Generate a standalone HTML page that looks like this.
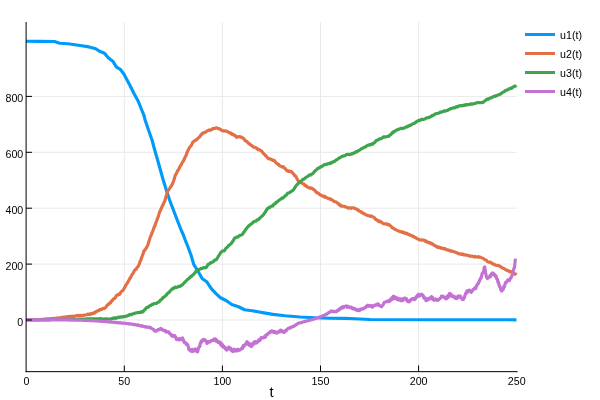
<!DOCTYPE html><html><head><meta charset="utf-8"><title>plot</title>
<style>html,body{margin:0;padding:0;background:#fff}body{width:600px;height:400px;overflow:hidden}svg{display:block;will-change:transform}text{font-family:"Liberation Sans",sans-serif;fill:#000}</style></head><body>
<svg width="600" height="400" viewBox="0 0 600 400">
<rect width="600" height="400" fill="#fff"/>
<g stroke="#e9e9e9" stroke-width="1" fill="none">
<line x1="124.30" y1="22" x2="124.30" y2="371.5"/>
<line x1="222.40" y1="22" x2="222.40" y2="371.5"/>
<line x1="320.50" y1="22" x2="320.50" y2="371.5"/>
<line x1="418.60" y1="22" x2="418.60" y2="371.5"/>
<line x1="26.2" y1="320.00" x2="516.8" y2="320.00"/>
<line x1="26.2" y1="264.10" x2="516.8" y2="264.10"/>
<line x1="26.2" y1="208.20" x2="516.8" y2="208.20"/>
<line x1="26.2" y1="152.30" x2="516.8" y2="152.30"/>
<line x1="26.2" y1="96.40" x2="516.8" y2="96.40"/>
</g>
<g fill="none" stroke-width="3.15" stroke-linejoin="round" stroke-linecap="butt">
<path stroke="#009AFA" d="M26.00,41.20 L39.50,41.35 L54.50,41.50 L59.75,43.30 L68.00,43.75 L80.00,45.55 L89.00,46.90 L95.75,48.70 L99.50,51.25 L104.50,53.25 L108.25,57.75 L112.75,61.20 L116.50,67.20 L120.25,69.30 L124.00,74.25 L130.00,85.50 L134.50,94.50 L138.25,101.25 L140.80,107.75 L143.85,115.00 L145.10,120.00 L148.50,130.00 L152.00,140.00 L154.70,150.00 L157.60,160.00 L160.40,170.00 L163.20,180.00 L166.30,190.00 L169.60,200.00 L173.40,210.00 L177.20,220.00 L181.10,230.00 L183.40,235.00 L185.00,239.50 L188.00,247.00 L191.00,255.00 L193.70,264.30 L196.00,268.00 L198.00,271.20 L202.30,278.80 L206.80,281.80 L211.50,288.90 L216.00,293.60 L220.50,297.75 L226.50,300.75 L231.75,304.50 L238.50,306.75 L244.50,309.75 L252.00,310.80 L258.00,311.80 L264.00,312.90 L273.00,314.40 L285.00,315.80 L300.00,317.00 L315.00,317.75 L330.00,318.20 L345.00,318.40 L355.00,318.80 L370.00,319.45 L430.00,319.70 L516.40,319.80"/>
<path stroke="#E36F47" d="M26.00,319.80 L26.78,319.79 L27.56,319.78 L28.33,319.77 L29.11,319.76 L29.89,319.74 L30.67,319.73 L31.44,319.72 L32.22,319.71 L33.00,319.70 L33.78,319.69 L34.56,319.68 L35.33,319.67 L36.11,319.66 L36.89,319.64 L37.67,319.63 L38.44,319.62 L39.22,319.61 L40.00,319.60 L40.78,319.52 L41.56,319.44 L42.33,319.37 L43.11,319.29 L43.89,319.21 L44.67,319.13 L45.44,319.06 L46.22,318.98 L47.00,318.90 L47.81,318.84 L48.62,318.78 L49.42,318.72 L50.23,318.65 L51.04,318.59 L51.85,318.53 L52.65,318.47 L53.46,318.41 L54.27,318.35 L55.08,318.28 L55.88,318.22 L56.69,318.16 L57.50,318.10 L58.31,317.98 L59.12,317.85 L59.92,317.73 L60.73,318.09 L61.54,317.95 L62.35,317.02 L63.15,317.49 L63.96,317.33 L64.77,316.95 L65.58,316.90 L66.38,316.74 L67.19,317.05 L68.00,316.50 L68.80,316.78 L69.60,316.25 L70.40,316.72 L71.20,316.69 L72.00,316.19 L72.80,316.25 L73.60,316.55 L74.40,316.30 L75.20,316.01 L76.00,315.69 L76.80,315.74 L77.60,316.06 L78.40,315.47 L79.20,316.16 L80.00,315.47 L80.82,315.98 L81.64,315.26 L82.45,315.78 L83.27,315.40 L84.09,315.07 L84.91,314.95 L85.73,314.96 L86.55,314.77 L87.36,314.37 L88.18,314.14 L89.00,314.31 L89.75,314.56 L90.50,314.07 L91.25,313.35 L92.00,313.92 L92.75,313.55 L93.50,313.46 L94.25,312.47 L95.00,312.74 L95.83,311.61 L96.67,311.75 L97.50,310.92 L98.33,310.43 L99.17,310.63 L100.00,309.41 L100.83,309.52 L101.67,309.55 L102.50,308.64 L103.33,308.31 L104.17,308.68 L105.00,307.92 L105.92,307.22 L106.83,305.53 L107.75,304.86 L108.50,304.01 L109.25,303.84 L110.00,302.58 L110.83,302.55 L111.67,300.73 L112.50,300.53 L113.33,299.05 L114.17,298.52 L115.00,298.31 L115.90,296.36 L116.80,295.08 L117.54,295.22 L118.28,294.54 L119.01,293.82 L119.75,294.39 L120.50,292.65 L121.25,291.64 L122.00,291.04 L122.75,290.42 L123.50,289.64 L124.25,288.11 L125.00,286.94 L125.75,285.25 L126.50,284.27 L127.25,283.19 L128.00,281.78 L128.75,280.54 L129.50,279.01 L130.25,277.93 L131.00,276.60 L131.75,275.19 L132.50,273.76 L133.25,273.02 L134.00,271.49 L134.75,270.10 L135.50,269.55 L136.25,269.07 L137.00,267.43 L137.75,266.98 L138.50,265.89 L139.25,264.01 L140.00,261.64 L140.75,260.46 L141.50,257.76 L142.25,256.11 L143.00,253.92 L144.00,250.72 L144.77,250.36 L145.53,249.04 L146.30,248.06 L147.15,246.28 L148.00,244.66 L148.65,242.10 L149.30,240.14 L150.15,237.51 L151.00,235.48 L152.00,232.93 L153.00,230.49 L154.00,227.48 L155.00,225.44 L155.75,223.08 L156.50,221.26 L157.25,219.12 L158.00,217.13 L158.75,214.88 L159.50,212.26 L160.25,210.82 L161.00,209.33 L161.75,207.20 L162.50,205.64 L163.25,204.41 L164.00,202.36 L164.75,201.22 L165.50,198.30 L166.25,195.72 L167.00,193.37 L167.75,190.98 L168.50,189.84 L169.25,189.02 L170.00,187.84 L170.75,186.56 L171.50,185.77 L172.25,184.21 L173.00,182.66 L173.75,180.46 L174.50,177.98 L175.25,175.43 L176.00,174.15 L176.75,172.87 L177.50,170.98 L178.25,169.99 L179.00,168.74 L179.75,167.04 L180.50,165.59 L181.25,164.89 L182.00,163.03 L182.75,161.77 L183.50,160.75 L184.25,159.03 L185.00,157.29 L185.88,155.98 L186.75,153.37 L187.62,151.02 L188.50,149.69 L189.33,147.78 L190.17,146.67 L191.00,145.89 L191.83,144.41 L192.67,142.43 L193.50,141.55 L194.32,140.99 L195.14,140.55 L195.96,139.75 L196.78,139.61 L197.60,138.57 L198.42,137.85 L199.23,137.01 L200.05,136.64 L200.87,134.84 L201.68,134.59 L202.50,133.09 L203.32,133.09 L204.13,132.53 L204.95,132.21 L205.77,132.12 L206.58,131.38 L207.40,130.72 L208.21,130.37 L209.02,129.98 L209.82,130.40 L210.63,129.84 L211.44,129.81 L212.25,129.19 L213.00,128.28 L213.75,128.68 L214.50,128.56 L215.25,128.26 L216.00,127.80 L216.75,127.90 L217.50,128.24 L218.25,128.82 L219.00,128.53 L219.75,129.03 L220.50,129.34 L221.25,130.17 L222.00,130.38 L222.75,130.87 L223.50,131.14 L224.25,130.75 L225.00,130.83 L225.75,131.24 L226.50,131.16 L227.25,131.48 L228.00,131.88 L228.75,132.54 L229.50,132.64 L230.25,133.29 L231.00,133.00 L231.75,133.68 L232.50,134.75 L233.25,134.41 L234.00,135.19 L234.75,135.35 L235.50,135.88 L236.25,137.20 L237.00,137.31 L237.75,136.99 L238.50,136.49 L239.25,136.68 L240.00,136.64 L240.75,137.10 L241.50,137.13 L242.25,137.56 L243.00,138.32 L243.75,138.59 L244.50,139.69 L245.25,140.77 L246.00,141.26 L246.75,141.22 L247.50,142.27 L248.25,143.09 L249.00,143.26 L249.75,144.52 L250.50,144.71 L251.25,145.42 L252.00,145.59 L252.75,146.65 L253.50,146.91 L254.25,147.17 L255.00,147.21 L255.75,147.97 L256.50,148.03 L257.33,149.01 L258.17,149.72 L259.00,149.43 L259.83,150.18 L260.67,150.57 L261.50,150.90 L262.25,152.02 L263.00,153.06 L263.75,153.64 L264.50,154.22 L265.25,155.52 L266.00,155.70 L266.75,156.93 L267.50,157.65 L268.25,158.56 L269.00,158.93 L269.75,158.58 L270.50,159.26 L271.25,159.32 L272.00,159.86 L272.75,160.45 L273.50,160.38 L274.25,160.42 L275.00,161.53 L275.75,162.43 L276.50,163.26 L277.25,163.68 L278.00,164.50 L278.75,164.36 L279.50,165.94 L280.25,166.03 L281.00,166.21 L281.75,166.81 L282.50,167.08 L283.25,166.60 L284.00,167.62 L284.75,168.43 L285.50,168.72 L286.25,170.13 L287.00,170.84 L287.75,170.62 L288.50,171.40 L289.25,170.91 L290.00,171.56 L290.75,171.56 L291.50,171.55 L292.25,172.71 L293.00,173.45 L293.75,174.02 L294.50,175.63 L295.25,175.57 L296.00,176.63 L296.75,178.24 L297.50,179.71 L298.25,180.66 L299.00,181.30 L299.75,181.59 L300.50,182.32 L301.25,182.53 L302.00,183.02 L302.75,183.80 L303.50,183.82 L304.25,184.37 L305.00,185.53 L305.75,185.45 L306.50,186.51 L307.25,187.04 L308.00,187.15 L308.75,187.67 L309.50,188.04 L310.25,188.36 L311.00,187.88 L311.75,188.16 L312.50,188.63 L313.25,189.34 L314.00,189.79 L314.75,190.14 L315.50,191.31 L316.25,192.34 L317.00,192.37 L317.75,193.04 L318.50,193.38 L319.25,193.94 L320.00,194.87 L320.75,194.81 L321.50,195.65 L322.25,195.78 L323.00,196.14 L323.75,196.81 L324.50,196.28 L325.25,197.32 L326.00,197.10 L326.75,197.76 L327.50,198.22 L328.25,198.40 L329.00,198.45 L329.75,199.21 L330.50,198.78 L331.25,199.63 L332.00,199.82 L332.75,200.39 L333.50,201.14 L334.25,201.51 L335.00,201.77 L335.75,201.88 L336.50,202.23 L337.25,203.01 L338.00,203.33 L338.75,203.93 L339.50,205.16 L340.25,204.86 L341.00,206.12 L341.75,205.89 L342.50,206.08 L343.25,206.24 L344.00,206.20 L344.75,206.79 L345.50,206.70 L346.25,207.19 L347.00,207.24 L347.82,207.95 L348.65,208.08 L349.48,207.71 L350.30,208.01 L351.12,208.40 L351.95,207.91 L352.77,207.78 L353.60,208.03 L354.43,208.08 L355.25,208.68 L356.00,208.80 L356.75,209.21 L357.50,210.08 L358.25,209.95 L359.00,210.95 L359.75,211.20 L360.50,211.40 L361.25,212.24 L362.00,212.17 L362.75,213.12 L363.50,213.58 L364.25,213.57 L365.00,214.16 L365.75,214.84 L366.50,215.04 L367.25,215.26 L368.00,215.58 L368.75,215.85 L369.50,215.88 L370.25,216.31 L371.00,215.83 L371.75,216.37 L372.50,216.62 L373.25,216.94 L374.00,217.60 L374.75,218.00 L375.50,219.41 L376.25,219.43 L377.00,220.18 L377.75,220.97 L378.50,220.64 L379.25,221.79 L380.00,221.33 L380.75,221.60 L381.50,222.30 L382.25,222.68 L383.00,223.62 L383.75,223.77 L384.50,223.84 L385.25,223.70 L386.00,223.99 L386.75,223.87 L387.50,224.66 L388.25,224.40 L389.00,224.48 L389.75,225.51 L390.50,225.70 L391.25,226.54 L392.00,227.83 L392.75,227.67 L393.50,228.39 L394.25,228.83 L395.00,229.25 L395.75,229.80 L396.50,230.00 L397.25,230.47 L398.00,230.75 L398.81,230.96 L399.61,231.56 L400.42,231.50 L401.22,231.76 L402.03,232.38 L402.83,231.90 L403.64,232.20 L404.44,233.13 L405.25,232.93 L406.09,233.62 L406.94,233.31 L407.78,234.04 L408.62,234.70 L409.47,234.53 L410.31,235.29 L411.16,235.47 L412.00,235.59 L412.75,236.61 L413.50,236.42 L414.25,236.91 L415.00,237.47 L415.75,237.58 L416.50,238.51 L417.25,238.69 L418.00,239.09 L418.75,239.23 L419.50,239.86 L420.25,240.05 L421.00,240.09 L421.75,239.89 L422.50,240.04 L423.25,240.34 L424.00,240.05 L424.84,240.45 L425.69,241.67 L426.53,241.14 L427.38,242.29 L428.22,242.37 L429.06,242.94 L429.91,242.44 L430.75,243.01 L431.50,244.00 L432.25,243.71 L433.00,244.31 L433.75,245.05 L434.50,245.37 L435.25,245.85 L436.09,246.63 L436.94,246.32 L437.78,247.46 L438.62,247.40 L439.47,247.06 L440.31,248.17 L441.16,247.78 L442.00,248.28 L442.75,248.55 L443.50,248.31 L444.25,248.86 L445.00,248.61 L445.75,248.94 L446.50,249.84 L447.25,249.93 L448.00,249.82 L448.75,250.31 L449.50,250.83 L450.25,250.41 L451.00,251.09 L451.75,251.06 L452.50,251.37 L453.33,251.57 L454.17,251.90 L455.00,251.95 L455.83,252.33 L456.67,252.71 L457.50,253.17 L458.33,253.63 L459.17,253.89 L460.00,253.92 L460.75,253.89 L461.50,254.49 L462.25,253.93 L463.00,254.06 L463.75,254.96 L464.50,254.95 L465.25,254.72 L466.00,255.08 L466.75,255.13 L467.50,255.39 L468.25,255.52 L469.00,255.62 L469.75,256.15 L470.50,256.30 L471.25,256.18 L472.00,256.22 L472.75,256.13 L473.50,256.70 L474.25,257.02 L475.00,256.35 L475.75,256.92 L476.50,257.01 L477.25,257.06 L478.00,256.53 L478.85,257.24 L479.70,257.07 L480.55,257.24 L481.40,257.81 L482.25,258.06 L483.10,258.23 L483.89,258.97 L484.68,259.55 L485.46,259.95 L486.25,260.15 L487.03,261.27 L487.81,261.71 L488.59,262.12 L489.38,262.27 L490.16,262.11 L490.94,262.66 L491.72,262.96 L492.50,263.89 L493.33,264.07 L494.17,263.99 L495.00,265.04 L495.83,265.34 L496.67,265.54 L497.50,265.38 L498.33,265.49 L499.17,265.68 L500.00,266.57 L500.78,266.92 L501.56,266.96 L502.34,268.06 L503.12,268.19 L503.91,268.51 L504.69,268.98 L505.47,269.75 L506.25,269.96 L507.03,270.47 L507.81,270.25 L508.59,271.14 L509.38,271.02 L510.16,271.97 L510.94,271.59 L511.72,272.02 L512.50,272.54 L513.30,272.84 L514.10,273.43 L514.90,274.27 L515.70,274.00 L516.50,274.75"/>
<path stroke="#3EA44E" d="M26.00,320.00 L26.80,319.99 L27.59,319.99 L28.39,319.98 L29.19,319.98 L29.98,319.97 L30.78,319.96 L31.58,319.96 L32.38,319.95 L33.17,319.94 L33.97,319.94 L34.77,319.93 L35.56,319.93 L36.36,319.92 L37.16,319.91 L37.95,319.91 L38.75,319.90 L39.55,319.89 L40.34,319.89 L41.14,319.88 L41.94,319.88 L42.73,319.87 L43.53,319.86 L44.33,319.86 L45.12,319.85 L45.92,319.84 L46.72,319.84 L47.52,319.83 L48.31,319.82 L49.11,319.82 L49.91,319.81 L50.70,319.81 L51.50,319.80 L52.30,319.79 L53.09,319.79 L53.89,319.78 L54.69,319.78 L55.48,319.77 L56.28,319.76 L57.08,319.76 L57.88,319.75 L58.67,319.74 L59.47,319.74 L60.27,319.73 L61.06,319.73 L61.86,319.72 L62.66,319.71 L63.45,319.71 L64.25,319.70 L65.05,319.69 L65.84,319.69 L66.64,319.68 L67.44,319.68 L68.23,319.67 L69.03,319.66 L69.83,319.66 L70.62,319.65 L71.42,319.64 L72.22,319.64 L73.02,319.63 L73.81,319.62 L74.61,319.62 L75.41,319.61 L76.20,319.61 L77.00,319.60 L77.81,319.54 L78.62,319.49 L79.44,319.43 L80.25,319.38 L81.06,319.32 L81.88,319.26 L82.69,319.21 L83.50,319.15 L84.31,319.09 L85.12,319.04 L85.94,318.98 L86.75,318.93 L87.56,318.87 L88.38,318.81 L89.19,318.76 L90.00,318.70 L90.83,318.72 L91.67,318.73 L92.50,318.75 L93.33,318.77 L94.17,318.78 L95.00,318.80 L95.83,318.82 L96.67,318.83 L97.50,318.85 L98.33,318.87 L99.17,318.88 L100.00,318.59 L100.83,318.49 L101.67,319.23 L102.50,318.73 L103.33,319.31 L104.17,319.26 L105.00,318.79 L105.83,318.86 L106.67,318.92 L107.50,319.03 L108.33,318.99 L109.17,318.95 L110.00,319.01 L110.83,319.15 L111.67,318.61 L112.50,318.39 L113.33,318.50 L114.17,317.91 L115.00,317.82 L115.83,318.31 L116.67,317.79 L117.50,317.69 L118.33,317.09 L119.17,317.34 L120.00,317.37 L120.83,316.73 L121.67,317.14 L122.50,317.02 L123.33,316.37 L124.17,316.75 L125.00,316.47 L125.83,316.38 L126.67,315.80 L127.50,315.84 L128.33,315.58 L129.17,314.65 L130.00,314.40 L130.83,314.71 L131.67,314.72 L132.50,313.83 L133.33,313.76 L134.17,313.63 L135.00,313.14 L135.83,313.01 L136.67,312.80 L137.50,312.68 L138.33,312.72 L139.17,312.29 L140.00,312.19 L140.75,312.40 L141.50,311.57 L142.25,311.91 L143.00,311.91 L143.75,310.68 L144.50,309.75 L145.25,309.42 L146.00,308.06 L146.75,307.59 L147.50,307.39 L148.25,307.20 L149.00,306.24 L149.75,305.91 L150.50,305.40 L151.25,305.33 L152.00,304.44 L152.88,304.54 L153.75,303.65 L154.62,303.53 L155.50,303.54 L156.31,303.50 L157.12,302.86 L157.94,302.40 L158.75,302.06 L159.68,301.23 L160.60,299.72 L161.32,299.63 L162.05,299.00 L162.78,297.77 L163.50,297.20 L164.35,296.93 L165.20,296.03 L166.05,295.43 L166.90,294.26 L167.66,293.30 L168.43,292.69 L169.19,292.38 L169.95,291.14 L170.71,290.45 L171.47,289.75 L172.24,288.99 L173.00,288.22 L173.80,288.40 L174.60,287.43 L175.40,287.01 L176.20,287.58 L177.00,287.24 L177.85,287.06 L178.70,286.28 L179.55,286.47 L180.40,286.16 L181.25,285.25 L182.10,284.94 L182.95,284.24 L183.80,283.31 L184.65,282.40 L185.50,281.41 L186.25,280.77 L187.00,279.99 L187.75,279.16 L188.50,278.95 L189.25,277.99 L190.00,277.78 L190.80,276.28 L191.60,276.24 L192.40,275.24 L193.20,274.63 L194.00,273.79 L194.80,272.98 L195.60,271.88 L196.40,270.56 L197.17,270.80 L197.93,269.87 L198.70,269.57 L199.47,269.48 L200.23,268.94 L201.00,268.42 L201.75,268.72 L202.50,268.26 L203.25,267.84 L204.00,267.59 L204.75,267.97 L205.50,267.45 L206.25,267.55 L207.25,265.77 L208.25,264.23 L209.00,264.03 L209.75,263.79 L210.50,262.70 L211.25,262.76 L212.00,262.38 L212.83,261.78 L213.67,261.29 L214.50,260.06 L215.33,260.12 L216.17,259.83 L217.00,258.59 L217.82,257.34 L218.65,255.89 L219.48,254.67 L220.30,253.13 L221.05,252.28 L221.80,251.65 L222.63,250.92 L223.47,250.93 L224.30,250.96 L225.20,249.53 L226.10,248.04 L227.00,247.43 L227.80,246.72 L228.60,245.43 L229.40,245.20 L230.20,244.43 L231.00,243.83 L231.74,242.73 L232.48,241.85 L233.22,240.66 L233.96,239.31 L234.70,238.02 L235.51,237.75 L236.32,237.16 L237.13,237.15 L237.94,236.89 L238.76,236.19 L239.57,235.52 L240.38,235.21 L241.19,234.99 L242.00,234.79 L242.75,233.92 L243.50,232.53 L244.25,231.88 L245.00,230.69 L245.75,229.48 L246.50,228.40 L247.25,227.48 L248.00,226.63 L248.75,225.80 L249.50,225.46 L250.25,224.67 L251.00,223.90 L251.75,223.58 L252.50,223.14 L253.25,222.00 L254.00,221.73 L254.75,221.28 L255.50,221.24 L256.25,220.84 L257.00,219.89 L257.75,219.91 L258.50,219.36 L259.25,218.44 L260.00,218.17 L260.75,217.02 L261.50,216.80 L262.25,215.83 L263.00,215.19 L263.75,214.26 L264.50,213.10 L265.25,212.11 L266.00,210.91 L266.75,209.44 L267.50,208.83 L268.25,207.88 L269.00,207.57 L269.75,207.71 L270.50,206.63 L271.25,206.24 L272.00,205.82 L272.75,206.09 L273.59,204.68 L274.44,203.76 L275.28,203.71 L276.12,202.28 L276.97,202.15 L277.81,201.22 L278.66,200.58 L279.50,199.91 L280.30,199.19 L281.10,199.01 L281.90,197.94 L282.70,198.22 L283.50,197.61 L284.30,196.99 L285.10,195.65 L285.90,195.42 L286.70,194.79 L287.50,193.21 L288.33,192.99 L289.17,192.76 L290.00,192.55 L290.83,191.57 L291.67,191.06 L292.50,190.67 L293.35,189.82 L294.20,188.77 L295.05,187.26 L295.90,186.06 L296.75,184.91 L297.50,184.18 L298.25,183.55 L299.00,182.57 L299.75,182.26 L300.50,182.00 L301.25,180.81 L302.00,180.42 L302.75,179.37 L303.50,179.32 L304.25,178.86 L305.00,178.26 L305.75,177.59 L306.50,177.04 L307.25,176.65 L308.00,176.36 L308.75,175.31 L309.50,174.89 L310.25,175.10 L311.00,174.87 L311.75,174.14 L312.50,173.70 L313.25,173.20 L314.00,171.97 L314.75,171.29 L315.50,170.48 L316.25,170.08 L317.00,169.08 L317.75,168.26 L318.50,168.24 L319.25,168.05 L320.00,167.03 L320.75,166.97 L321.50,166.28 L322.25,166.25 L323.00,165.58 L323.75,165.07 L324.50,164.80 L325.25,164.40 L326.00,164.58 L326.75,164.27 L327.50,163.86 L328.25,163.80 L329.00,163.54 L329.75,163.60 L330.50,162.69 L331.25,163.11 L332.00,162.31 L332.75,162.07 L333.50,161.61 L334.25,161.60 L335.00,161.08 L335.75,160.32 L336.50,159.74 L337.25,159.44 L338.00,159.05 L338.75,158.12 L339.50,157.91 L340.25,157.78 L341.00,157.00 L341.75,156.44 L342.50,156.11 L343.25,156.21 L344.00,155.83 L344.75,155.75 L345.50,155.32 L346.25,154.64 L347.00,154.47 L347.75,154.41 L348.50,154.22 L349.25,154.56 L350.00,154.57 L350.83,154.35 L351.67,153.51 L352.50,153.80 L353.33,153.05 L354.17,152.89 L355.00,152.91 L355.75,151.90 L356.50,151.47 L357.25,151.71 L358.00,150.79 L358.75,150.41 L359.50,150.18 L360.25,149.84 L361.00,148.81 L361.75,148.67 L362.50,148.33 L363.25,147.94 L364.00,147.26 L364.75,147.17 L365.50,147.07 L366.25,146.13 L367.00,145.84 L367.75,145.19 L368.50,145.07 L369.25,145.16 L370.00,144.40 L370.75,144.84 L371.50,144.59 L372.25,143.60 L373.00,144.10 L373.75,142.90 L374.50,142.57 L375.25,141.86 L376.00,140.76 L376.75,140.41 L377.59,140.01 L378.44,139.78 L379.28,138.91 L380.12,138.98 L380.97,138.79 L381.81,138.16 L382.66,137.66 L383.50,136.90 L384.25,137.09 L385.00,136.82 L385.75,137.00 L386.50,136.81 L387.25,136.56 L388.00,136.06 L388.75,136.33 L389.50,135.63 L390.25,134.53 L391.00,134.48 L391.75,133.58 L392.50,132.41 L393.25,132.64 L394.00,131.43 L394.75,131.10 L395.50,130.95 L396.25,130.34 L397.00,129.80 L397.83,129.67 L398.67,129.28 L399.50,128.93 L400.33,128.59 L401.17,128.28 L402.00,128.64 L402.83,128.46 L403.67,128.06 L404.50,128.02 L405.25,127.35 L406.00,126.95 L406.75,126.74 L407.50,126.86 L408.25,125.79 L409.00,125.89 L409.75,125.34 L410.50,125.49 L411.25,124.69 L412.00,124.25 L412.75,123.89 L413.50,123.59 L414.25,123.37 L415.00,122.57 L415.75,122.61 L416.50,121.55 L417.25,121.29 L418.00,120.74 L418.75,120.35 L419.50,120.55 L420.25,120.29 L421.00,119.59 L421.75,119.38 L422.50,119.37 L423.25,119.45 L424.00,119.30 L424.75,119.02 L425.50,118.64 L426.25,118.00 L427.00,117.98 L427.75,117.55 L428.50,117.61 L429.25,117.40 L430.00,116.83 L430.75,116.40 L431.50,116.40 L432.25,115.25 L433.00,115.47 L433.75,115.08 L434.50,114.65 L435.33,113.86 L436.17,113.73 L437.00,113.47 L437.83,113.24 L438.67,113.26 L439.50,112.72 L440.33,112.09 L441.17,112.31 L442.00,111.69 L442.75,111.60 L443.50,111.53 L444.25,110.69 L445.00,111.19 L445.75,110.91 L446.50,110.57 L447.25,110.41 L448.00,110.16 L448.75,109.53 L449.50,109.45 L450.25,108.61 L451.00,108.64 L451.75,108.38 L452.57,107.97 L453.40,107.86 L454.23,107.99 L455.05,107.70 L455.88,106.80 L456.70,107.16 L457.52,106.79 L458.35,106.05 L459.18,106.10 L460.00,105.76 L460.82,105.46 L461.64,105.71 L462.45,105.90 L463.27,105.19 L464.09,105.52 L464.91,105.19 L465.73,104.53 L466.55,105.01 L467.36,104.62 L468.18,104.75 L469.00,104.39 L469.82,104.31 L470.64,103.84 L471.45,104.15 L472.27,104.15 L473.09,103.98 L473.91,103.49 L474.73,103.67 L475.55,103.31 L476.36,102.87 L477.18,102.70 L478.00,102.62 L478.75,102.62 L479.50,102.48 L480.25,102.68 L481.00,102.75 L481.75,102.50 L482.50,102.29 L483.25,102.38 L484.00,101.44 L484.75,100.94 L485.50,100.57 L486.25,99.61 L487.09,99.08 L487.94,99.38 L488.78,98.89 L489.62,98.23 L490.47,97.90 L491.31,97.70 L492.16,97.42 L493.00,96.75 L493.83,96.25 L494.67,96.14 L495.50,96.35 L496.33,95.48 L497.17,95.46 L498.00,94.93 L498.83,94.64 L499.67,94.30 L500.50,94.21 L501.25,93.50 L502.00,92.86 L502.75,92.43 L503.50,91.98 L504.25,91.76 L505.00,90.87 L505.75,90.33 L506.50,90.20 L507.25,89.85 L508.00,89.79 L508.75,88.88 L509.50,88.88 L510.25,88.55 L511.00,87.90 L511.75,88.42 L512.54,87.33 L513.33,86.80 L514.12,86.73 L514.92,86.03 L515.71,86.03 L516.50,85.50"/>
<path stroke="#C371D2" d="M26.00,319.70 L26.50,319.69 L27.00,319.69 L27.50,319.70 L28.00,319.69 L28.50,319.69 L29.00,319.70 L29.50,319.71 L30.00,319.71 L30.50,319.71 L31.00,319.69 L31.50,319.70 L32.00,319.69 L32.50,319.69 L33.00,319.69 L33.50,319.69 L34.00,319.71 L34.50,319.71 L35.00,319.71 L35.50,319.71 L36.00,319.69 L36.50,319.69 L37.00,319.70 L37.50,319.71 L38.00,319.71 L38.50,319.71 L39.00,319.69 L39.50,319.70 L40.00,319.71 L40.50,319.70 L41.00,319.69 L41.50,319.70 L42.00,319.69 L42.50,319.71 L43.00,319.71 L43.50,319.70 L44.00,319.69 L44.50,319.71 L45.00,319.70 L45.50,319.71 L46.00,319.71 L46.50,319.70 L47.00,319.70 L47.50,319.70 L48.00,319.70 L48.50,319.69 L49.00,319.69 L49.50,319.71 L50.00,319.68 L50.50,319.68 L51.00,319.70 L51.50,319.69 L52.00,319.70 L52.50,319.70 L53.00,319.69 L53.50,319.72 L54.00,319.69 L54.50,319.70 L55.00,319.69 L55.50,319.70 L56.00,319.69 L56.50,319.70 L57.00,319.71 L57.50,319.69 L58.00,319.70 L58.50,319.71 L59.00,319.69 L59.50,319.69 L60.00,319.69 L60.50,319.71 L61.00,319.70 L61.50,319.69 L62.00,319.69 L62.50,319.69 L63.00,319.70 L63.50,319.68 L64.00,319.71 L64.50,319.71 L65.00,319.72 L65.50,319.72 L66.00,319.75 L66.50,319.74 L67.00,319.76 L67.50,319.79 L68.00,319.81 L68.50,319.81 L69.00,319.84 L69.50,319.85 L70.00,319.87 L70.50,319.88 L71.00,319.90 L71.50,319.92 L72.00,319.93 L72.50,319.95 L73.00,319.97 L73.50,319.98 L74.00,320.00 L74.50,320.02 L75.00,320.03 L75.50,320.05 L76.00,320.07 L76.50,320.08 L77.00,320.10 L77.50,320.12 L78.00,320.13 L78.50,320.15 L79.00,320.16 L79.50,320.17 L80.00,320.19 L80.50,320.22 L81.00,320.22 L81.50,320.24 L82.00,320.27 L82.50,320.28 L83.00,320.32 L83.50,320.30 L84.00,320.33 L84.50,320.36 L85.00,320.36 L85.50,320.40 L86.00,320.40 L86.50,320.40 L87.00,320.43 L87.50,320.43 L88.00,320.47 L88.50,320.49 L89.00,320.56 L89.50,320.59 L90.00,320.59 L90.50,320.59 L91.00,320.63 L91.50,320.66 L92.00,320.68 L92.50,320.71 L93.00,320.80 L93.50,320.76 L94.00,320.78 L94.50,320.89 L95.00,320.88 L95.50,320.96 L96.00,320.93 L96.50,321.01 L97.00,321.01 L97.50,321.05 L98.00,321.08 L98.50,321.09 L99.00,321.07 L99.50,321.13 L100.00,321.25 L100.50,321.29 L101.00,321.34 L101.50,321.29 L102.00,321.37 L102.50,321.43 L103.00,321.45 L103.50,321.51 L104.00,321.50 L104.50,321.56 L105.00,321.61 L105.50,321.57 L106.00,321.73 L106.50,321.77 L107.00,321.64 L107.50,321.85 L108.00,321.89 L108.50,321.87 L109.00,321.78 L109.50,322.00 L110.00,321.87 L110.50,322.09 L111.00,322.06 L111.50,321.96 L112.00,322.02 L112.50,322.18 L113.00,322.21 L113.50,322.30 L114.00,322.40 L114.50,322.26 L115.00,322.25 L115.50,322.54 L116.00,322.34 L116.50,322.63 L117.00,322.46 L117.50,322.70 L118.00,322.74 L118.50,322.82 L119.00,322.77 L119.50,322.92 L120.00,322.75 L120.50,322.95 L121.00,322.88 L121.50,323.12 L122.00,323.13 L122.50,323.07 L123.00,323.14 L123.50,323.01 L124.00,323.05 L124.50,323.30 L125.00,323.31 L125.50,323.50 L126.00,323.45 L126.50,323.31 L127.00,323.45 L127.50,323.68 L128.00,323.65 L128.50,323.51 L129.00,323.93 L129.50,324.00 L130.00,323.75 L130.50,324.02 L131.00,324.02 L131.50,324.28 L132.00,324.13 L132.50,324.16 L133.00,324.35 L133.50,324.66 L134.00,324.30 L134.50,324.38 L135.00,324.71 L135.50,324.92 L136.00,324.79 L136.50,324.82 L137.00,325.12 L137.50,325.15 L138.00,324.87 L138.50,325.46 L139.00,325.18 L139.50,325.36 L140.00,325.81 L140.50,325.67 L141.00,326.03 L141.50,325.74 L142.00,326.33 L142.50,325.98 L143.00,326.07 L143.50,326.44 L144.00,326.44 L144.50,326.71 L145.00,327.11 L145.50,327.04 L146.00,326.57 L146.50,326.88 L147.00,327.14 L147.50,327.16 L148.00,327.42 L148.50,327.31 L149.00,327.05 L149.50,327.26 L150.00,327.84 L150.50,327.50 L151.00,327.93 L151.50,328.50 L152.00,328.55 L152.50,328.97 L153.00,329.28 L153.50,329.34 L154.00,330.35 L154.50,330.23 L155.00,331.12 L155.50,330.76 L156.03,331.22 L156.55,330.89 L157.07,330.45 L157.60,330.03 L158.12,329.48 L158.65,329.94 L159.18,329.28 L159.70,329.37 L160.22,328.61 L160.75,328.34 L161.22,328.64 L161.70,329.56 L162.18,329.15 L162.65,330.16 L163.12,329.83 L163.60,330.31 L164.07,330.29 L164.55,330.85 L165.03,330.46 L165.50,331.08 L166.00,331.96 L166.50,331.21 L167.00,332.04 L167.50,331.81 L168.00,331.98 L168.50,331.81 L169.00,332.00 L169.50,333.53 L170.00,333.58 L170.52,334.18 L171.04,334.83 L171.56,335.71 L172.08,334.99 L172.60,336.35 L173.14,335.92 L173.68,335.78 L174.21,336.12 L174.75,335.54 L175.30,337.32 L175.85,337.07 L176.40,339.52 L176.92,339.52 L177.43,339.62 L177.95,339.30 L178.47,339.70 L178.98,338.53 L179.50,339.80 L180.00,338.64 L180.50,338.97 L181.00,339.52 L181.50,339.05 L182.00,338.17 L182.50,337.95 L183.00,338.93 L183.50,340.38 L184.00,342.05 L184.50,342.66 L185.00,342.25 L185.56,342.78 L186.12,344.34 L186.69,343.53 L187.25,344.38 L187.80,344.98 L188.35,347.01 L188.90,349.50 L189.40,350.08 L189.90,350.09 L190.40,349.66 L190.90,351.33 L191.40,350.71 L191.90,349.74 L192.42,349.35 L192.93,351.45 L193.45,351.32 L193.97,350.98 L194.48,350.03 L195.00,349.13 L195.50,348.86 L196.00,349.55 L196.50,349.75 L197.00,351.79 L197.50,351.98 L197.97,350.67 L198.45,348.07 L198.93,347.27 L199.40,346.40 L199.86,346.49 L200.32,343.01 L200.79,343.05 L201.25,341.22 L201.75,340.77 L202.25,341.57 L202.75,339.84 L203.25,340.29 L203.75,339.34 L204.28,339.55 L204.80,339.75 L205.32,340.77 L205.85,340.66 L206.38,340.86 L206.90,343.52 L207.41,341.55 L207.92,342.78 L208.43,342.08 L208.94,341.92 L209.46,341.50 L209.97,341.95 L210.48,341.54 L210.99,340.93 L211.50,340.33 L212.00,340.55 L212.50,340.53 L213.00,340.06 L213.50,339.86 L214.00,339.01 L214.50,340.44 L215.00,339.57 L215.47,338.94 L215.94,339.45 L216.41,341.35 L216.88,340.24 L217.34,340.85 L217.81,341.83 L218.28,342.57 L218.75,341.58 L219.22,342.17 L219.69,342.71 L220.16,342.17 L220.62,344.74 L221.09,343.05 L221.56,345.85 L222.03,344.28 L222.50,344.74 L222.97,346.92 L223.44,347.31 L223.91,346.28 L224.38,347.53 L224.84,347.79 L225.31,348.85 L225.78,347.96 L226.25,350.01 L226.75,350.08 L227.25,349.00 L227.75,349.17 L228.25,348.85 L228.75,347.10 L229.22,348.67 L229.69,349.03 L230.16,348.82 L230.62,348.02 L231.09,349.70 L231.56,350.83 L232.03,349.71 L232.50,350.97 L232.99,351.53 L233.48,350.72 L233.97,349.24 L234.46,350.66 L234.94,349.66 L235.43,351.09 L235.92,350.54 L236.41,349.59 L236.90,350.99 L237.41,350.15 L237.93,349.27 L238.44,350.35 L238.95,350.33 L239.46,350.17 L239.97,349.98 L240.49,349.26 L241.00,349.20 L241.47,348.53 L241.94,347.91 L242.41,348.62 L242.88,346.61 L243.34,345.50 L243.81,346.65 L244.28,345.68 L244.75,345.36 L245.31,344.86 L245.88,343.35 L246.44,342.59 L247.00,341.63 L247.50,343.74 L248.00,344.39 L248.50,344.19 L249.00,343.08 L249.50,345.56 L250.00,345.52 L250.50,345.06 L251.00,344.12 L251.50,346.56 L252.00,345.54 L252.50,345.06 L253.00,343.08 L253.50,344.40 L254.00,342.18 L254.50,342.82 L255.00,341.52 L255.50,341.94 L256.00,343.15 L256.50,342.68 L257.00,342.74 L257.50,341.37 L258.00,341.48 L258.47,341.43 L258.94,339.56 L259.41,339.87 L259.88,340.53 L260.34,339.47 L260.81,339.12 L261.28,337.41 L261.75,337.62 L262.31,338.00 L262.88,338.03 L263.44,337.69 L264.00,337.35 L264.50,336.44 L265.00,337.47 L265.50,336.90 L266.00,335.11 L266.50,335.30 L267.00,334.10 L267.50,334.11 L268.00,334.10 L268.50,332.99 L269.00,333.09 L269.50,332.24 L270.00,332.27 L270.50,331.29 L271.00,331.28 L271.50,330.98 L272.00,331.90 L272.50,331.03 L273.00,331.96 L273.50,331.21 L274.00,332.52 L274.50,331.55 L275.00,331.58 L275.50,331.86 L276.00,332.97 L276.50,332.73 L277.00,333.17 L277.50,332.75 L278.00,331.84 L278.50,331.79 L279.00,331.57 L279.50,331.86 L280.00,330.47 L280.50,330.20 L280.97,331.10 L281.44,330.41 L281.91,331.64 L282.38,331.00 L282.84,331.52 L283.31,331.83 L283.78,332.35 L284.25,331.43 L284.75,332.03 L285.25,330.77 L285.75,331.01 L286.25,329.79 L286.75,330.21 L287.25,329.16 L287.75,328.79 L288.25,328.22 L288.75,328.09 L289.27,327.87 L289.80,328.22 L290.32,327.66 L290.85,327.24 L291.38,327.51 L291.90,326.65 L292.43,326.46 L292.95,326.78 L293.48,326.54 L294.00,326.12 L294.50,326.00 L295.00,325.13 L295.50,325.33 L296.00,324.91 L296.50,324.58 L297.00,324.36 L297.50,323.73 L298.00,323.48 L298.50,323.17 L299.00,323.15 L299.50,323.04 L300.00,322.89 L300.50,322.70 L301.00,322.67 L301.50,322.55 L302.00,322.39 L302.50,322.07 L303.00,321.96 L303.50,321.84 L304.00,321.71 L304.50,321.63 L305.00,321.43 L305.50,321.36 L306.00,321.18 L306.50,321.05 L307.00,320.96 L307.50,320.85 L308.00,320.66 L308.50,320.54 L309.00,320.44 L309.50,320.28 L310.00,320.15 L310.50,320.03 L311.00,319.90 L311.50,319.78 L312.00,319.66 L312.50,319.51 L313.00,319.35 L313.50,319.23 L314.00,319.09 L314.50,318.88 L315.00,318.66 L315.50,318.51 L316.00,318.34 L316.50,318.14 L317.00,317.98 L317.50,317.72 L318.00,317.51 L318.50,317.53 L319.00,317.34 L319.50,317.06 L320.00,316.78 L320.50,316.66 L321.00,316.57 L321.50,316.50 L322.00,316.12 L322.50,316.13 L323.00,315.71 L323.50,315.33 L324.00,315.34 L324.50,315.12 L325.00,314.91 L325.50,314.77 L326.00,314.13 L326.50,314.17 L327.00,314.20 L327.50,313.41 L328.00,312.99 L328.50,312.75 L329.00,312.49 L329.50,312.28 L330.00,311.83 L330.50,311.79 L331.00,311.02 L331.50,310.85 L332.00,311.26 L332.50,311.21 L333.00,311.70 L333.50,311.75 L334.00,311.19 L334.50,311.34 L335.00,311.62 L335.50,311.71 L336.00,311.63 L336.50,311.74 L337.00,310.73 L337.50,310.64 L338.00,309.90 L338.50,310.37 L339.00,309.69 L339.50,309.81 L340.00,308.42 L340.50,308.77 L341.00,308.38 L341.50,307.40 L342.00,308.19 L342.50,308.02 L343.00,306.66 L343.50,307.64 L344.00,307.17 L344.50,306.66 L345.00,306.60 L345.50,306.21 L346.00,305.94 L346.50,306.60 L347.00,307.21 L347.50,306.27 L348.00,306.69 L348.50,306.45 L349.00,307.08 L349.50,307.68 L350.00,307.78 L350.50,307.15 L351.00,307.55 L351.50,307.21 L352.00,308.14 L352.50,308.78 L353.00,308.97 L353.50,308.22 L354.02,308.82 L354.55,308.54 L355.07,309.11 L355.60,309.84 L356.12,309.25 L356.65,310.05 L357.18,310.32 L357.70,310.31 L358.23,309.77 L358.75,310.70 L359.25,310.55 L359.75,310.48 L360.25,309.19 L360.75,309.01 L361.25,309.17 L361.75,309.27 L362.25,308.99 L362.75,308.41 L363.25,308.93 L363.75,308.63 L364.25,308.26 L364.75,307.76 L365.25,307.49 L365.75,307.36 L366.25,306.11 L366.75,306.32 L367.25,305.52 L367.75,305.12 L368.25,306.25 L368.75,305.64 L369.25,305.75 L369.75,305.74 L370.25,306.30 L370.75,305.67 L371.25,306.55 L371.75,305.77 L372.25,307.18 L372.77,305.75 L373.30,306.46 L373.82,305.90 L374.35,305.48 L374.88,305.06 L375.40,304.92 L375.93,305.36 L376.45,304.74 L376.98,304.54 L377.50,303.81 L377.97,304.75 L378.44,304.26 L378.91,305.06 L379.38,305.62 L379.84,305.73 L380.31,306.06 L380.78,306.33 L381.25,306.04 L381.75,306.59 L382.25,305.55 L382.75,305.01 L383.25,304.81 L383.75,303.29 L384.25,302.43 L384.75,302.20 L385.25,302.06 L385.75,301.86 L386.25,301.72 L386.75,301.33 L387.25,301.72 L387.75,301.16 L388.25,301.15 L388.75,301.59 L389.25,300.44 L389.75,301.21 L390.25,300.66 L390.75,299.19 L391.25,299.94 L391.75,297.99 L392.25,297.36 L392.75,299.13 L393.25,296.33 L393.75,296.40 L394.25,298.67 L394.75,296.68 L395.25,298.41 L395.75,298.30 L396.25,297.63 L396.75,297.82 L397.25,299.68 L397.75,298.45 L398.22,298.32 L398.69,299.01 L399.16,299.91 L399.62,299.13 L400.09,298.90 L400.56,300.69 L401.03,299.39 L401.50,299.54 L402.00,298.97 L402.50,300.75 L403.00,299.05 L403.50,299.33 L404.00,298.47 L404.50,299.07 L405.00,298.02 L405.50,298.55 L406.00,299.82 L406.50,298.78 L407.00,300.10 L407.50,301.45 L408.00,301.55 L408.50,301.18 L409.00,301.92 L409.50,300.66 L410.00,301.10 L410.50,300.17 L411.00,299.29 L411.50,299.75 L412.00,299.19 L412.50,298.60 L413.00,299.01 L413.50,298.47 L414.00,299.07 L414.50,299.55 L415.00,299.04 L415.50,298.78 L416.00,296.79 L416.50,297.09 L417.00,297.06 L417.50,295.24 L417.99,296.37 L418.48,294.19 L418.97,296.07 L419.46,295.81 L419.95,295.90 L420.44,295.37 L420.93,294.91 L421.42,294.06 L421.91,294.60 L422.40,294.85 L422.92,295.11 L423.45,296.25 L423.98,298.04 L424.50,297.47 L425.00,298.21 L425.50,298.13 L426.00,300.65 L426.50,300.68 L427.00,300.40 L427.50,299.05 L428.00,298.53 L428.50,298.83 L429.00,299.40 L429.50,297.95 L430.00,297.91 L430.50,297.70 L431.00,298.55 L431.50,296.56 L432.00,298.89 L432.50,297.33 L433.00,299.46 L433.50,300.10 L434.00,299.49 L434.50,300.17 L435.00,299.19 L435.50,298.94 L436.00,299.50 L436.50,299.35 L437.00,300.42 L437.50,300.14 L438.00,299.87 L438.50,300.11 L439.00,299.15 L439.50,298.71 L440.00,298.67 L440.50,298.24 L441.00,297.44 L441.50,296.12 L442.00,296.19 L442.50,296.47 L443.00,296.22 L443.50,297.08 L444.00,297.27 L444.50,297.67 L445.00,297.23 L445.50,298.71 L446.00,298.27 L446.50,298.73 L447.00,296.95 L447.50,295.92 L448.00,297.64 L448.50,296.80 L449.00,294.76 L449.50,293.49 L450.00,294.80 L450.50,295.14 L451.00,294.05 L451.50,296.16 L452.00,296.67 L452.50,296.47 L453.00,296.18 L453.50,296.09 L453.99,296.24 L454.47,297.31 L454.96,298.14 L455.44,298.06 L455.93,297.17 L456.41,298.70 L456.90,297.04 L457.40,298.04 L457.90,296.61 L458.40,295.84 L458.90,295.97 L459.40,297.14 L459.92,296.20 L460.43,296.19 L460.95,297.86 L461.47,298.04 L461.98,299.07 L462.50,299.58 L462.98,299.41 L463.45,299.44 L463.92,297.58 L464.40,297.84 L464.90,295.30 L465.40,294.38 L465.90,292.74 L466.40,293.41 L466.90,290.84 L467.42,291.67 L467.93,291.98 L468.45,290.64 L468.97,290.08 L469.48,290.08 L470.00,290.57 L470.40,291.17 L470.80,291.23 L471.26,292.47 L471.72,291.23 L472.18,291.10 L472.64,290.32 L473.10,289.31 L473.62,289.35 L474.15,288.84 L474.68,287.95 L475.20,288.71 L475.73,288.75 L476.25,286.52 L476.75,285.49 L477.25,284.43 L477.75,284.03 L478.25,283.93 L478.75,281.97 L479.25,281.91 L479.75,279.81 L480.25,279.42 L480.75,277.75 L481.25,277.85 L481.71,275.53 L482.18,273.47 L482.64,273.05 L483.10,272.06 L483.65,270.85 L484.20,267.37 L484.75,266.97 L485.18,270.60 L485.60,272.89 L486.08,275.53 L486.55,277.01 L487.02,278.17 L487.50,278.58 L488.00,277.46 L488.50,277.47 L489.00,277.37 L489.50,276.90 L490.00,275.47 L490.50,276.74 L491.00,275.41 L491.50,273.77 L492.00,273.89 L492.50,272.85 L493.02,274.09 L493.53,273.45 L494.05,274.82 L494.57,274.48 L495.08,276.13 L495.60,276.27 L496.08,275.92 L496.55,278.58 L497.02,279.11 L497.50,279.42 L497.98,282.59 L498.45,281.89 L498.92,284.43 L499.40,286.50 L499.86,286.26 L500.32,287.93 L500.78,289.76 L501.24,289.26 L501.70,291.02 L502.24,288.88 L502.78,289.99 L503.32,289.11 L503.86,286.26 L504.40,286.91 L504.86,284.75 L505.32,282.90 L505.79,282.26 L506.25,282.47 L506.72,281.50 L507.19,281.35 L507.66,280.03 L508.12,279.83 L508.59,280.00 L509.06,280.06 L509.53,280.51 L510.00,279.27 L510.50,277.84 L511.00,278.17 L511.50,276.49 L512.00,275.52 L512.50,274.51 L512.98,272.15 L513.45,270.03 L513.92,268.09 L514.40,267.89 L514.90,263.67 L515.40,258.60"/>
</g>
<g stroke="#000" stroke-width="1" fill="none">
<line x1="26.1" y1="22" x2="26.1" y2="372.1"/>
<line x1="25.6" y1="371.66" x2="517.7" y2="371.66"/>
<line x1="124.30" y1="365.5" x2="124.30" y2="371.5"/>
<line x1="222.40" y1="365.5" x2="222.40" y2="371.5"/>
<line x1="320.50" y1="365.5" x2="320.50" y2="371.5"/>
<line x1="418.60" y1="365.5" x2="418.60" y2="371.5"/>
<line x1="26" y1="320.00" x2="32" y2="320.00"/>
<line x1="26" y1="264.10" x2="32" y2="264.10"/>
<line x1="26" y1="208.20" x2="32" y2="208.20"/>
<line x1="26" y1="152.30" x2="32" y2="152.30"/>
<line x1="26" y1="96.40" x2="32" y2="96.40"/>
</g>
<g font-size="10.67px">
<text x="23.3" y="325.60" text-anchor="end">0</text>
<text x="23.3" y="269.70" text-anchor="end">200</text>
<text x="23.3" y="213.80" text-anchor="end">400</text>
<text x="23.3" y="157.90" text-anchor="end">600</text>
<text x="23.3" y="102.00" text-anchor="end">800</text>
<text x="26.50" y="385" text-anchor="middle">0</text>
<text x="124.30" y="385" text-anchor="middle">50</text>
<text x="222.40" y="385" text-anchor="middle">100</text>
<text x="320.50" y="385" text-anchor="middle">150</text>
<text x="418.60" y="385" text-anchor="middle">200</text>
<text x="516.70" y="385" text-anchor="middle">250</text>
</g>
<text x="271.6" y="397" text-anchor="middle" font-size="14.67px">t</text>
<line x1="525" y1="34.50" x2="555" y2="34.50" stroke="#009AFA" stroke-width="3"/>
<text x="560.1" y="38.95" font-size="10.67px">u1(t)</text>
<line x1="525" y1="53.50" x2="555" y2="53.50" stroke="#E36F47" stroke-width="3"/>
<text x="560.1" y="57.95" font-size="10.67px">u2(t)</text>
<line x1="525" y1="72.50" x2="555" y2="72.50" stroke="#3EA44E" stroke-width="3"/>
<text x="560.1" y="76.95" font-size="10.67px">u3(t)</text>
<line x1="525" y1="91.50" x2="555" y2="91.50" stroke="#C371D2" stroke-width="3"/>
<text x="560.1" y="95.95" font-size="10.67px">u4(t)</text>
</svg></body></html>
